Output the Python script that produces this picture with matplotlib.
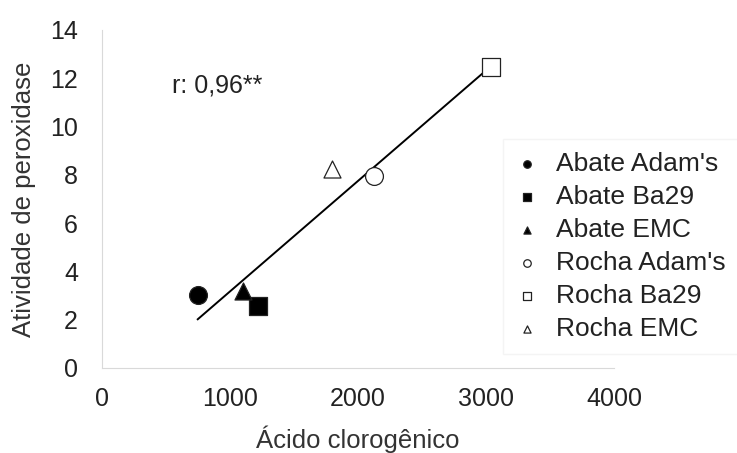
import numpy as np
import matplotlib.pyplot as plt

plt.rcParams['font.family'] = ['Liberation Sans', 'DejaVu Sans']

# Dados
labels = ["Abate Adam's", "Abate Ba29", "Abate EMC",
          "Rocha Adam's", "Rocha Ba29", "Rocha EMC"]
acido = [750, 1220, 1100, 2125, 3040, 1800]
peroxidase = [3.0, 2.57, 3.2, 7.95, 12.45, 8.25]
markers = ["o", "s", "^", "o", "s", "^"]
filled = [True, True, True, False, False, False]

fig = plt.figure(figsize=(7.37, 4.53), dpi=100)
ax = fig.add_axes([0.138, 0.188, 0.695, 0.746])

# linha de tendência
coef = np.polyfit(acido, peroxidase, 1)
xl = np.array([min(acido), max(acido)])
ax.plot(xl, np.polyval(coef, xl), color="black", lw=1.4, zorder=1)

for lab, x, y, m, f in zip(labels, acido, peroxidase, markers, filled):
    ax.scatter(x, y, marker=m, s=165 if m != "^" else 150,
               facecolor="black" if f else "white", edgecolor="#222222",
               linewidth=0.9, label=lab, zorder=3)

ax.text(547, 11.7, "r: 0,96**", fontsize=18, color="#222222", va="center")

ax.set_xlim(0, 4000)
ax.set_ylim(0, 14)
ax.set_xticks(np.arange(0, 4001, 1000))
ax.set_yticks(np.arange(0, 15, 2))
ax.tick_params(length=0, labelsize=18, colors="#222222")
ax.tick_params(axis="x", pad=14)
ax.tick_params(axis="y", pad=17)
for s in ["top", "right"]:
    ax.spines[s].set_visible(False)
for s in ["left", "bottom"]:
    ax.spines[s].set_color("#d9d9d9")

ax.set_xlabel("Ácido clorogênico", fontsize=18.5, color="#333333", labelpad=10)
ax.set_ylabel("Atividade de peroxidase", fontsize=18.5, color="#333333", labelpad=10)

leg = fig.legend(loc="upper left", bbox_to_anchor=(0.683, 0.693), frameon=True,
                 fontsize=19, markerscale=0.42, handletextpad=0.7,
                 handlelength=0.8, labelspacing=0.34, borderpad=0.5,
                 borderaxespad=0, fancybox=False)
leg.get_frame().set_edgecolor("#f2f2f2")
for t in leg.get_texts():
    t.set_color("#222222")

plt.savefig("out.png", dpi=100)
